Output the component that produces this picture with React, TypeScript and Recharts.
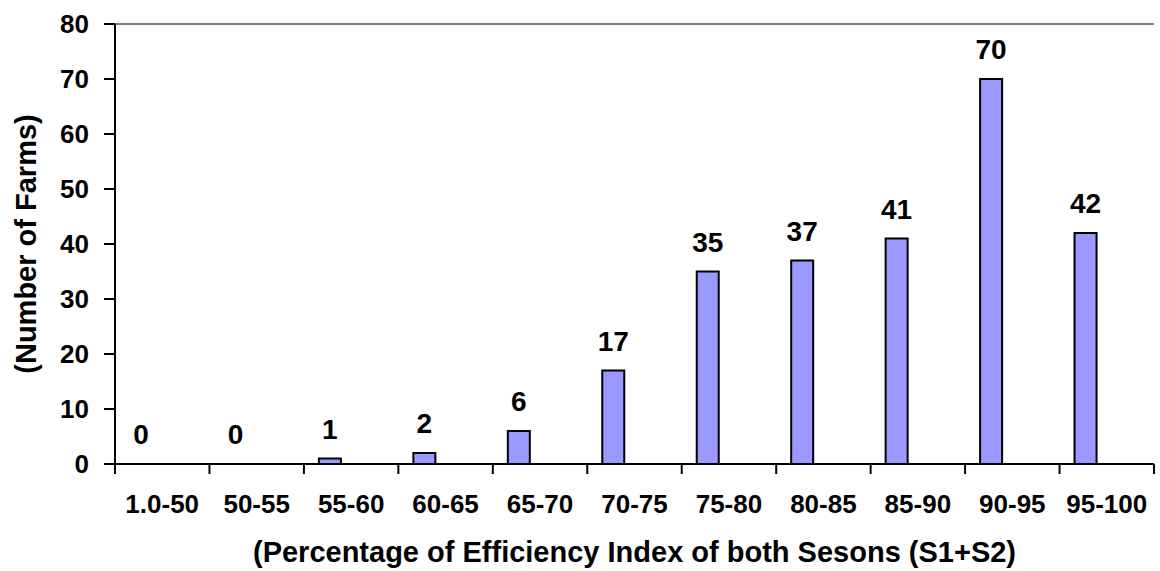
import React from 'react';
import { BarChart, Bar, XAxis, YAxis, LabelList, ReferenceLine } from 'recharts';

const categories = ['1.0-50', '50-55', '55-60', '60-65', '65-70', '70-75', '75-80', '80-85', '85-90', '90-95', '95-100'];
const farms = [0, 0, 1, 2, 6, 17, 35, 37, 41, 70, 42];
const yTicks = [0, 10, 20, 30, 40, 50, 60, 70, 80];

const font = '"Liberation Sans", Arial, sans-serif';
const barColor = '#9999FF';

const data = categories.map((c, i) => ({ name: c, farms: farms[i], empty: null }));

// category label in the middle, tick marks on the category boundaries (Excel style)
const XTick = (props: any) => {
  const { x, y, payload, index, visibleTicksCount } = props;
  const half = payload.offset || 0;
  return (
    <g>
      <line x1={x - half} y1={y} x2={x - half} y2={y + 10} stroke="#000" strokeWidth={2} />
      {index === visibleTicksCount - 1 && (
        <line x1={x + half} y1={y} x2={x + half} y2={y + 10} stroke="#000" strokeWidth={2} />
      )}
      <text x={x} y={y + 31} dy="0.71em" textAnchor="middle" fill="#000" fontSize={26} fontWeight="bold" fontFamily={font}>
        {payload.value}
      </text>
    </g>
  );
};

const YTick = (props: any) => {
  const { x, y, payload } = props;
  return (
    <g>
      <line x1={x + 15} y1={y} x2={x + 26} y2={y} stroke="#000" strokeWidth={2} />
      <text x={x} y={y} dy="0.355em" textAnchor="end" fill="#000" fontSize={26} fontWeight="bold" fontFamily={font}>
        {payload.value}
      </text>
    </g>
  );
};

const App: React.FC = () => {
  return (
    <div style={{ position: 'absolute', left: 0, top: 0, background: '#fff' }}>
      <BarChart
        width={1160}
        height={571}
        data={data}
        margin={{ top: 24, right: 6, bottom: 0, left: 0 }}
        barSize={22}
        barGap={20}
      >
        <XAxis
          dataKey="name"
          height={107}
          interval={0}
          tickSize={0}
          tickMargin={0}
          tickLine={false}
          axisLine={{ stroke: '#000', strokeWidth: 2 }}
          tick={<XTick />}
          label={{
            value: '(Percentage of Efficiency Index of both Sesons (S1+S2)',
            position: 'insideBottom',
            offset: 9,
            fill: '#000',
            fontSize: 29,
            fontWeight: 'bold',
            fontFamily: font,
          }}
        />
        <XAxis xAxisId="edges" type="number" domain={[0, 11]} hide height={0} />
        <YAxis
          width={115}
          domain={[0, 80]}
          ticks={yTicks}
          interval={0}
          tickSize={11}
          tickMargin={15}
          axisLine={false}
          tickLine={false}
          tick={<YTick />}
          label={{
            value: '(Number of Farms)',
            angle: -90,
            position: 'center',
            dx: -32,
            fill: '#000',
            fontSize: 29,
            fontWeight: 'bold',
            fontFamily: font,
          }}
        />
        <ReferenceLine y={80} stroke="#808080" strokeWidth={2} />
        <ReferenceLine xAxisId="edges" x={11} stroke="#808080" strokeWidth={2} />
        <ReferenceLine xAxisId="edges" x={0} stroke="#000" strokeWidth={2} />
        <Bar
          dataKey="farms"
          fill={barColor}
          stroke="#000"
          strokeWidth={2}
          minPointSize={(v: any) => (v === 0 ? 0.01 : 0)}
          isAnimationActive={false}
        >
          <LabelList
            dataKey="farms"
            position="top"
            offset={20}
            formatter={(v: any) => String(v)}
            fill="#000"
            fontSize={28}
            fontWeight="bold"
            fontFamily={font}
          />
        </Bar>
        <Bar dataKey="empty" fill="none" isAnimationActive={false} />
      </BarChart>
    </div>
  );
};

export default App;
